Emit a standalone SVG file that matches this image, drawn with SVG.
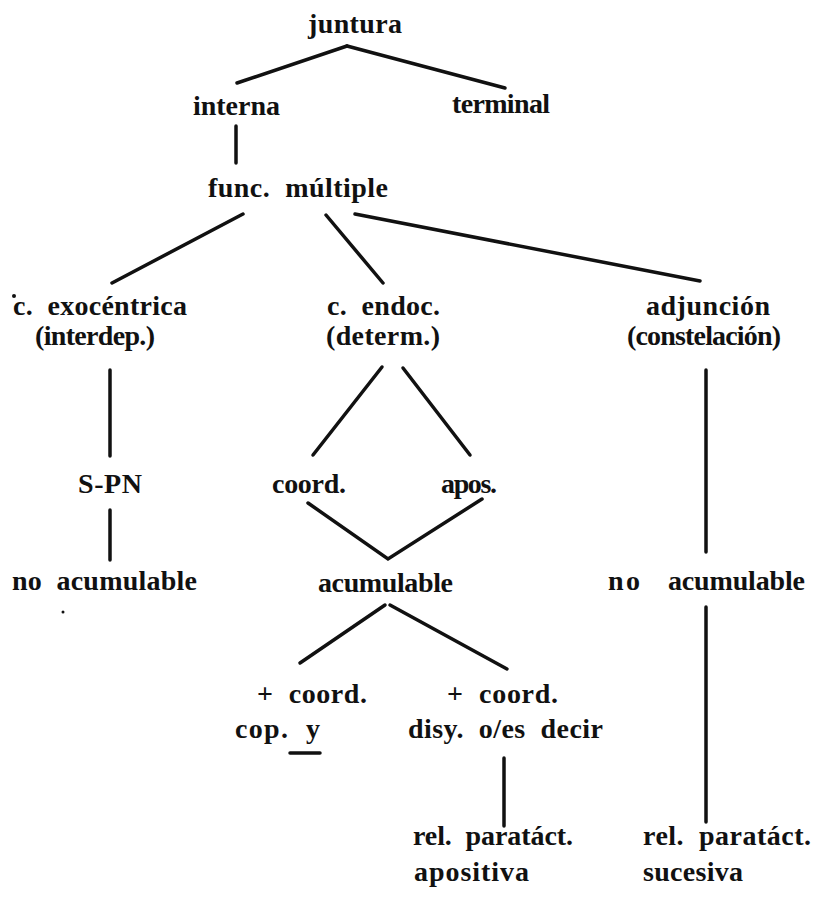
<svg xmlns="http://www.w3.org/2000/svg" width="814" height="899" viewBox="0 0 814 899">
<style>
text{font-family:"Liberation Serif","DejaVu Serif",serif;font-weight:bold;font-size:28px;fill:#111;white-space:pre}
.c line,.c path{stroke:#111;stroke-width:3.5;stroke-linecap:round;fill:none}
</style>
<rect width="814" height="899" fill="#fff"/>
<g class="c" id="connectors">
<line x1="347" y1="46" x2="237" y2="83"/>
<line x1="347" y1="46" x2="505" y2="88"/>
<line x1="236" y1="126" x2="236" y2="163"/>
<line x1="243" y1="214" x2="112" y2="283"/>
<line x1="326" y1="215" x2="383" y2="283"/>
<line x1="355" y1="214" x2="700" y2="281"/>
<line x1="110" y1="370" x2="110" y2="456"/>
<line x1="110" y1="510" x2="110" y2="560"/>
<line x1="382" y1="367" x2="313" y2="455"/>
<line x1="403" y1="368" x2="470" y2="455"/>
<path d="M308 503 L388 559 L482 499"/>
<line x1="385" y1="605" x2="300" y2="663"/>
<line x1="390" y1="605" x2="507" y2="669"/>
<line x1="706" y1="370" x2="706" y2="552"/>
<line x1="706" y1="607" x2="706" y2="822"/>
<line x1="504" y1="758" x2="504" y2="826"/>
<line x1="290" y1="753" x2="320" y2="753"/>
</g>
<g id="juntura"><text x="308" y="33" textLength="94">juntura</text></g>
<g id="interna"><text x="193" y="115" textLength="87">interna</text></g>
<g id="terminal"><text x="452" y="113" textLength="98">terminal</text></g>
<g id="func"><text x="208" y="197" textLength="180" xml:space="preserve">func.  múltiple</text></g>
<g id="exo"><circle cx="14" cy="296" r="2" fill="#111"/><text x="13" y="315" textLength="174" xml:space="preserve">c.  exocéntrica</text><text x="35" y="345" textLength="120">(interdep.)</text></g>
<g id="endo"><text x="327" y="315" textLength="113" xml:space="preserve">c.  endoc.</text><text x="326" y="345" textLength="114">(determ.)</text></g>
<g id="adj"><text x="646" y="315" textLength="124">adjunción</text><text x="627" y="345" textLength="154">(constelación)</text></g>
<g id="spn"><text x="78" y="493" textLength="64">S-PN</text></g>
<g id="noacum1"><text x="12" y="590" textLength="185" xml:space="preserve">no  acumulable</text><circle cx="63" cy="612" r="1.5" fill="#111"/></g>
<g id="coord"><text x="272" y="493" textLength="74">coord.</text></g>
<g id="apos"><text x="441" y="493" textLength="56">apos.</text></g>
<g id="acum"><text x="318" y="592" textLength="135">acumulable</text></g>
<g id="noacum2"><text x="608" y="590" textLength="32">no</text><text x="668" y="590" textLength="137">acumulable</text></g>
<g id="cop"><text x="257" y="703" textLength="110" xml:space="preserve">+  coord.</text><text x="235" y="738" textLength="85" xml:space="preserve">cop.  y</text></g>
<g id="disy"><text x="447" y="703" textLength="111" xml:space="preserve">+  coord.</text><text x="408" y="738" textLength="195" xml:space="preserve">disy.  o/es  decir</text></g>
<g id="apositiva"><text x="413" y="845" textLength="160" xml:space="preserve">rel.  paratáct.</text><text x="414" y="881" textLength="115">apositiva</text></g>
<g id="sucesiva"><text x="643" y="845" textLength="168" xml:space="preserve">rel.  paratáct.</text><text x="643" y="881" textLength="100">sucesiva</text></g>
</svg>
